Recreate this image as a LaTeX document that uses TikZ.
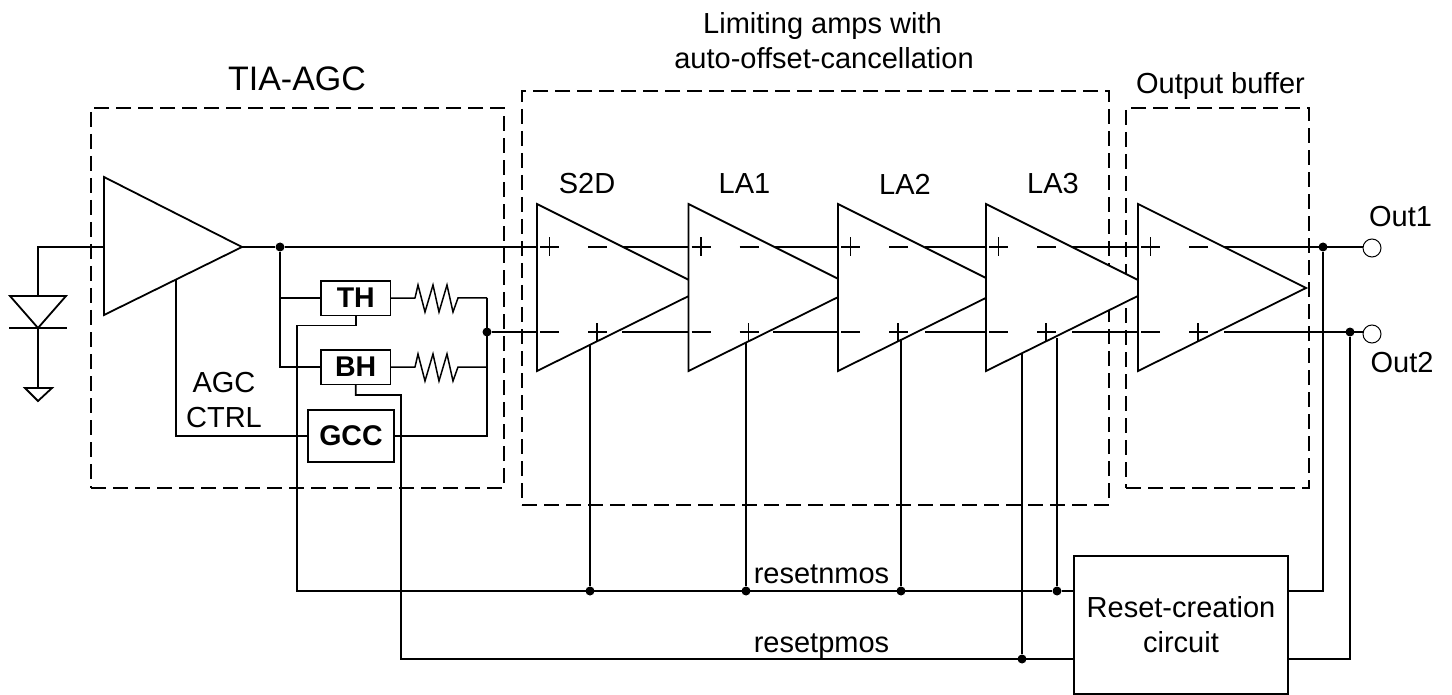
\documentclass[tikz,border=0pt]{standalone}
\usepackage{fontspec}
\setmainfont{Liberation Sans}
\tikzset{
  x=1pt,y=-1pt,
  wire/.style={line width=1.8pt,line join=miter},
  thinwire/.style={line width=1.5pt,line join=miter},
  amp/.style={wire,fill=white,line join=miter},
  sign/.style={line width=1.5pt},
  frame/.style={draw,outer sep=0pt,inner sep=0pt,anchor=north west,line width=1.7pt,dash pattern=on 15pt off 7pt},
  blockbox/.style={draw,outer sep=0pt,line width=1.8pt,fill=white,inner sep=0pt,anchor=north west,font=\bfseries\fontsize{28.5}{28.5}\selectfont},
  lbl/.style={inner sep=0pt,align=center,font=\fontsize{29}{35}\selectfont},
  junction/.style={circle,fill=black,inner sep=0pt,minimum size=9pt},
  port/.style={circle,draw,line width=1pt,fill=white,inner sep=0pt,minimum size=18pt},
}
\begin{document}
\begin{tikzpicture}
\useasboundingbox (0,0) rectangle (1452,695);

% dashed frames
\node[frame,minimum width=413pt,minimum height=380pt] (tiaframe) at (91,108) {};
\node[frame,minimum width=587pt,minimum height=414pt] (laframe) at (522,91) {};
\node[frame,minimum width=183pt,minimum height=380pt] (bufframe) at (1126,108) {};

% junctions and ports
\node[junction] (jtia) at (280,247) {};
\node[junction] (jfb) at (487,332) {};
\node[junction] (jout1) at (1323,247) {};
\node[junction] (jout2) at (1350,332) {};
\node[junction] (js2d) at (590,591) {};
\node[junction] (jla1) at (746,591) {};
\node[junction] (jla2) at (901,591) {};
\node[junction] (jla3) at (1057,591) {};
\node[junction] (jp) at (1022,659) {};
\node[port] (out1) at (1372,248) {};
\node[port] (out2) at (1372,334) {};

% blocks
\node[blockbox,minimum width=69.5pt,minimum height=34.5pt] (th) at (321,281) {\raisebox{1.5pt}{TH}};
\node[blockbox,minimum width=69.5pt,minimum height=34.5pt] (bh) at (321,350) {\raisebox{1pt}{BH}};
\node[blockbox,minimum width=86.5pt,minimum height=52pt] (gcc) at (307.7,410) {\raisebox{1pt}{GCC}};
\node[draw,outer sep=0pt,line width=1.8pt,fill=white,inner sep=0pt,anchor=north west,minimum width=214pt,minimum height=138pt,lbl] (reset) at (1074,556) {Reset-creation\\circuit};

% named points
\coordinate (a0) at (104,177); \coordinate (a0b) at (104,315); \coordinate (a0t) at (242,247);
\coordinate (pdin) at (38,247);
\coordinate (pdA) at (38,296); \coordinate (pdK) at (38,328); \coordinate (gnd) at (38,388);
\coordinate (fbtop) at (487,298); \coordinate (fbbh) at (487,367);
\coordinate (agc) at (176,280);

% wires
\draw[wire] (pdA) -- (pdin) -- (a0b |- pdin);
\draw[wire] (pdK) -- (gnd);
\draw[wire] (a0t) -- (jtia) -- (537,247);
\draw[wire] (jtia) |- (bh.west);
\draw[wire] (jtia |- th.west) -- (th.west);
\draw[wire] (jfb) -- (537,332);
\draw[wire] (fbtop) -- (gcc.east -| fbtop) -- (gcc.east);
\draw[wire] (agc) |- (gcc.west);
\draw[wire] (th.south) |- (297,325.5) |- (jla3);
\draw[wire] (jla3) -- (reset.west |- jla3);
\draw[wire] (bh.south) -- (355.7,395) -| (401,659) -- (reset.west |- jp);

% feedback resistors
\foreach \nm/\src/\yy in {r1/th/298,r2/bh/367}{
  \draw[thinwire] (\src.east) -- (415,\yy) -- (418,\yy-13) -- (425,\yy+14) -- (433,\yy-13) -- (439,\yy+14) -- (447,\yy-13) -- (453,\yy+14) -- (458,\yy) -- (487,\yy);
}

% signal wires between stages
\foreach \xa/\xb in {623/689,773/838,925/986,1072/1138,1224/1363}{
  \draw[wire] (\xa,247) -- (\xb,247);
}
\foreach \xa/\xb in {622/689,773/838,925/986,1072/1138,1224/1363}{
  \draw[wire] (\xa,332) -- (\xb,332);
}

% amp supply verticals
\draw[wire] (590,344) -- (js2d);
\draw[wire] (746,342) -- (jla1);
\draw[wire] (901,340) -- (jla2);
\draw[wire] (1022,350) -- (jp);
\draw[wire] (1057,338) -- (jla3);

% triangles
\draw[amp] (a0) -- (a0t) -- (a0b) -- cycle;
\foreach \x in {537,688.5,838,986,1138}{
  \draw[amp] (\x,204) -- (\x+168,288) -- (\x,371) -- cycle;
  \draw[sign] (\x+3,247) -- +(19,0) (\x+12.5,237.5) -- +(0,19);
  \draw[sign] (\x+51,247) -- +(19,0);
  \draw[sign] (\x+3,332) -- +(19,0);
  \draw[sign] (\x+51,332) -- +(19,0) (\x+60,323) -- +(0,19);
}

% output wires
\draw[wire] (reset.east |- jla3) -| (jout1);
\draw[wire] (reset.east |- jp) -| (jout2);

% photodiode
\draw[wire] (10,296) -- (66,296) -- (pdK) -- cycle;
\draw[wire] (9,328) -- (67,328);
\draw[wire] (25,388) -- (52,388) -- (38,401) -- cycle;

% labels
\node[lbl,font=\fontsize{34}{40}\selectfont] (t1) at (297,79) {TIA-AGC};
\node[lbl] (t2) at (824,41) {\hspace{-3pt}Limiting amps with\\auto-offset-cancellation};
\node[lbl] (t3) at (1220.5,86) {Output buffer};
\node[lbl] (s2d) at (587,184) {S2D};
\node[lbl] (la1) at (744.5,184) {LA1};
\node[lbl] (la2) at (905,184) {LA2};
\node[lbl] (la3) at (1053,184) {LA3};
\node[lbl] (o1) at (1400.5,217) {Out1};
\node[lbl] (o2) at (1402,363) {Out2};
\node[lbl] (agctxt) at (224,400) {AGC\\CTRL};
\node[lbl] (rn) at (821.5,574) {resetnmos};
\node[lbl] (rp) at (821.5,646) {resetpmos};
\end{tikzpicture}
\end{document}
